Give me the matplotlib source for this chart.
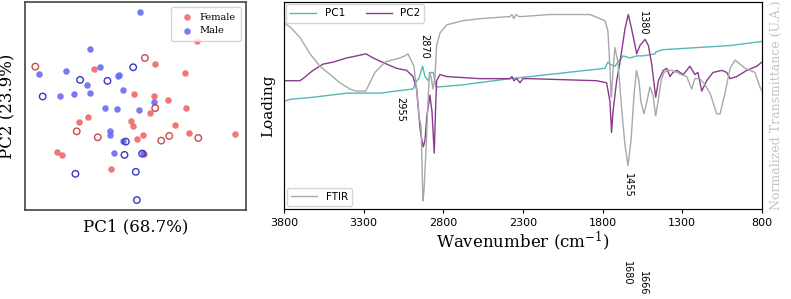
import numpy as np
import matplotlib
matplotlib.use("Agg")
import matplotlib.pyplot as plt

plt.rcParams["mathtext.fontset"] = "dejavuserif"

# ---- PCA scores (left panel) ----
female_pc1 = [1.90, 0.65, -1.17, 1.53, 0.02, 0.61, 1.04, 1.57, 0.48, -1.36, -1.62,
              -0.06, 0.00, 1.23, 1.67, 3.05, 0.28, 0.11, -2.28, -2.14, 0.30, -0.68]
female_pc2 = [2.28, 1.61, 1.45, 1.32, 0.69, 0.62, 0.50, 0.28, 0.11, 0.00, -0.15,
              -0.12, -0.27, -0.23, -0.47, -0.51, -0.55, -0.66, -1.06, -1.13, -1.12, -1.57]
female_open_pc1 = [-2.94, 0.34, 0.65, -1.70, -1.07, 0.83, 1.07, 1.94]
female_open_pc2 = [1.52, 1.78, 0.27, -0.43, -0.61, -0.71, -0.57, -0.63]
male_pc1 = [0.19, -1.30, -2.82, -2.03, -1.01, -0.45, -0.42, -1.38, -0.32, -1.30, -2.20,
            -1.77, 0.60, -0.86, -0.49, 0.17, -0.70, -0.69, -0.32, -0.59, 0.28]
male_pc2 = [3.18, 2.05, 1.29, 1.39, 1.50, 1.24, 1.28, 0.97, 0.81, 0.73, 0.63,
            0.68, 0.46, 0.26, 0.24, 0.20, -0.43, -0.53, -0.73, -1.07, -1.09]
male_open_pc1 = [-0.01, -1.60, -0.78, -2.72, -0.23, -0.27, 0.26, -1.74, 0.07, 0.10]
male_open_pc2 = [1.50, 1.12, 1.09, 0.62, -0.74, -1.14, -1.10, -1.71, -1.65, -2.50]

# ---- Spectra (right panel) ----
ftir_wn = [3800, 3762, 3700, 3637, 3574, 3511, 3449, 3386, 3348, 3287, 3229, 3166, 3122,
           3072, 3041, 3022, 3003, 2984, 2965, 2953, 2940, 2934, 2928, 2921, 2909, 2896,
           2887, 2877, 2865, 2852, 2842, 2821, 2779, 2677, 2570, 2382, 2369, 2357, 2344,
           2325, 2306, 2131, 1880, 1785, 1767, 1754, 1748, 1745, 1735, 1723, 1704, 1679,
           1660, 1641, 1622, 1603, 1588, 1572, 1560, 1541, 1522, 1503, 1484, 1467, 1452,
           1433, 1415, 1390, 1365, 1333, 1308, 1273, 1241, 1221, 1189, 1157, 1126, 1084,
           1063, 1032, 1000, 969, 938, 906, 875, 844, 813, 800]
ftir_val = [0.90, 0.88, 0.83, 0.75, 0.69, 0.65, 0.61, 0.58, 0.57, 0.57, 0.66, 0.71, 0.72,
            0.73, 0.74, 0.75, 0.72, 0.69, 0.55, 0.45, 0.40, 0.23, 0.04, 0.09, 0.28, 0.52,
            0.66, 0.64, 0.58, 0.64, 0.79, 0.85, 0.89, 0.91, 0.92, 0.93, 0.94, 0.92, 0.94,
            0.93, 0.93, 0.94, 0.94, 0.91, 0.86, 0.68, 0.56, 0.54, 0.67, 0.78, 0.71, 0.47,
            0.31, 0.21, 0.33, 0.55, 0.67, 0.62, 0.52, 0.46, 0.52, 0.59, 0.55, 0.45, 0.52,
            0.62, 0.66, 0.67, 0.67, 0.66, 0.65, 0.64, 0.58, 0.63, 0.63, 0.60, 0.56, 0.46,
            0.46, 0.56, 0.68, 0.72, 0.70, 0.68, 0.67, 0.66, 0.59, 0.57]

pc2_wn = [3800, 3700, 3681, 3618, 3555, 3492, 3406, 3344, 3285, 3241, 3155, 3093, 3030,
          2990, 2967, 2957, 2946, 2936, 2926, 2915, 2903, 2884, 2871, 2857, 2849, 2842,
          2821, 2779, 2570, 2382, 2369, 2357, 2338, 2319, 2300, 2256, 1838, 1775, 1754,
          1744, 1735, 1712, 1691, 1660, 1639, 1618, 1586, 1566, 1534, 1513, 1492, 1467,
          1450, 1419, 1398, 1377, 1359, 1335, 1294, 1252, 1221, 1202, 1178, 1147, 1107,
          1052, 1021, 1000, 959, 895, 833, 800]
pc2_val = [0.62, 0.62, 0.63, 0.67, 0.70, 0.71, 0.73, 0.74, 0.75, 0.73, 0.70, 0.68, 0.67,
           0.64, 0.58, 0.49, 0.39, 0.34, 0.30, 0.33, 0.45, 0.55, 0.47, 0.27, 0.47, 0.62,
           0.65, 0.64, 0.63, 0.63, 0.64, 0.62, 0.63, 0.61, 0.63, 0.63, 0.62, 0.61, 0.52,
           0.37, 0.47, 0.62, 0.71, 0.87, 0.94, 0.87, 0.75, 0.79, 0.82, 0.79, 0.70, 0.54,
           0.62, 0.67, 0.68, 0.64, 0.66, 0.67, 0.65, 0.69, 0.65, 0.66, 0.57, 0.62, 0.66,
           0.67, 0.66, 0.63, 0.64, 0.67, 0.69, 0.71]

pc1_wn = [3800, 3762, 3618, 3406, 3197, 2990, 2967, 2953, 2930, 2915, 2894, 2879, 2863,
          2846, 2832, 2677, 2382, 2256, 1785, 1767, 1754, 1723, 1704, 1672, 1628, 1586,
          1547, 1471, 1465, 1421, 1210, 1000, 800]
pc1_val = [0.52, 0.53, 0.54, 0.56, 0.56, 0.58, 0.62, 0.63, 0.69, 0.64, 0.62, 0.66, 0.66,
           0.59, 0.59, 0.60, 0.63, 0.64, 0.68, 0.71, 0.70, 0.69, 0.71, 0.74, 0.73, 0.74,
           0.74, 0.75, 0.76, 0.77, 0.78, 0.79, 0.81]

# band labels: (text, wavenumber position, height)
peak_labels = ["2870", "2955", "1455", "1380", "1680", "1666"]
peak_x = [2921, 3072, 1641, 1547, 1647, 1547]
peak_y = [0.785, 0.48, 0.115, 0.90, -0.31, -0.36]

RED, BLUE = "#f06868", "#6a6af2"
RED_EDGE, BLUE_EDGE = "#c94a4a", "#3838c4"
TEAL, PURPLE, GRAY = "#52b8b4", "#8a3a8e", "#a8a8a8"

fig = plt.figure(figsize=(7.91, 2.99), dpi=100)

# ---- scatter ----
ax1 = fig.add_axes([0.0316, 0.2977, 0.2794, 0.696])
ax1.scatter(female_pc1, female_pc2, s=22, color=RED, alpha=0.9, lw=0, label="Female")
ax1.scatter(male_pc1, male_pc2, s=22, color=BLUE, alpha=0.9, lw=0, label="Male")
ax1.scatter(female_open_pc1, female_open_pc2, s=22, facecolor="none",
            edgecolor=RED_EDGE, lw=1.0)
ax1.scatter(male_open_pc1, male_open_pc2, s=22, facecolor="none",
            edgecolor=BLUE_EDGE, lw=1.0)
ax1.set_xlim(-3.25, 3.37)
ax1.set_ylim(-2.8, 3.47)
ax1.set_xticks([])
ax1.set_yticks([])
for sp in ax1.spines.values():
    sp.set_color("#444444")
    sp.set_linewidth(1.2)
ax1.set_xlabel("PC1 (68.7%)", family="DejaVu Serif", fontsize=12, labelpad=6)
ax1.set_ylabel("PC2 (23.9%)", family="DejaVu Serif", fontsize=12, labelpad=6)
ax1.legend(loc="upper right", prop={"family": "DejaVu Serif", "size": 7},
           handletextpad=0.3, borderpad=0.6, markerscale=1.0)

# ---- spectra ----
ax2 = fig.add_axes([0.359, 0.301, 0.6043, 0.692])
l1, = ax2.plot(pc1_wn, pc1_val, color=TEAL, lw=1.0, label="PC1")
l2, = ax2.plot(pc2_wn, pc2_val, color=PURPLE, lw=1.0, label="PC2")
ax2.set_xlim(3800, 800)
ax2.set_ylim(0, 1.0)
ax2.set_xticks([3800, 3300, 2800, 2300, 1800, 1300, 800])
ax2.tick_params(axis="x", labelsize=8, length=3)
ax2.set_yticks([])
ax2.set_xlabel("Wavenumber (cm$^{-1}$)", family="DejaVu Serif", fontsize=12, labelpad=1)
ax2.set_ylabel("Loading", family="DejaVu Serif", fontsize=11, labelpad=6)
for sp in ax2.spines.values():
    sp.set_color("#444444")

ax3 = ax2.twinx()
l3, = ax3.plot(ftir_wn, ftir_val, color=GRAY, lw=1.0, label="FTIR")
ax3.set_ylim(0, 1.0)
ax3.set_yticks([])
ax3.set_ylabel("Normalized Transmittance (U.A.)", family="DejaVu Serif",
               fontsize=9, color="#c4c4c4", labelpad=6)

leg = ax2.legend(handles=[l1, l2], loc="upper left", ncol=2, fontsize=7.5,
                 borderaxespad=0.2, columnspacing=2.0, handlelength=2.5)
ax3.legend(handles=[l3], loc="lower left", fontsize=7.5, borderaxespad=0.3,
           handlelength=2.5)

for t, x, y in zip(peak_labels, peak_x, peak_y):
    ax2.text(x, y, t, rotation=-90, ha="center", va="center", fontsize=7,
             clip_on=False)

fig.savefig("out.png", dpi=100)
